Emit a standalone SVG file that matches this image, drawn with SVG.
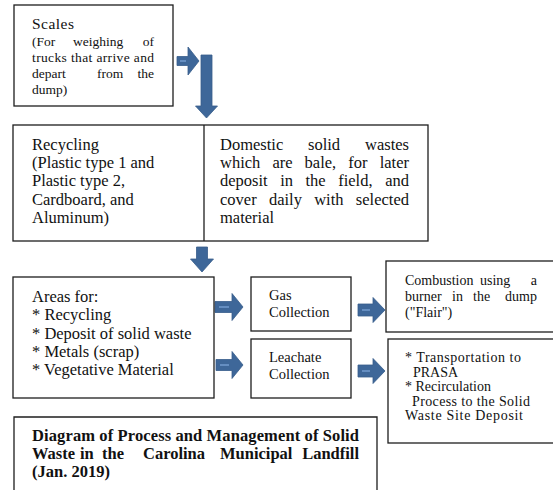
<svg xmlns="http://www.w3.org/2000/svg" width="553" height="490" viewBox="0 0 553 490">
<style>
.box{fill:#fff;stroke:#1e1e1e;stroke-width:1.3}
text{font-family:'Liberation Serif','DejaVu Serif','Times New Roman',serif;fill:#111}
.s135{font-size:13.5px}
.s14{font-size:14px}
.s145{font-size:14.5px}
.s165{font-size:16.5px}
.b{font-weight:bold}
.arr{fill:#3e6799;stroke:#375d8a;stroke-width:0.8}
.hl{stroke:#6a94c6;stroke-width:1.8;fill:none}
</style>
<rect width="553" height="490" fill="#fff"/>
<g id="connectors">
<path class="arr" d="M177,56.5 L188,56.5 L188,47 L199,61 L188,75 L188,65.5 L177,65.5 Z"/>
<path class="hl" d="M180,61 L186,61"/>
<path class="arr" d="M201,55 L212,55 L212,106 L217.5,106 L206.5,118 L195.5,106 L201,106 Z"/>
<path class="arr" d="M196.5,247 L207.5,247 L207.5,259 L213.5,259 L202,272 L190.5,259 L196.5,259 Z"/>
<path class="arr" d="M215,301.5 L232,301.5 L232,293.5 L243,307 L232,320.5 L232,312.5 L215,312.5 Z"/>
<path class="hl" d="M219,307 L229,307"/>
<path class="arr" d="M216,359.5 L232,359.5 L232,351.5 L243,365 L232,378.5 L232,370.5 L216,370.5 Z"/>
<path class="hl" d="M220,365 L229,365"/>
<path class="arr" d="M358,304 L373,304 L373,297.5 L385,310 L373,322.5 L373,316 L358,316 Z"/>
<path class="hl" d="M362,310 L370,310"/>
<path class="arr" d="M358,365 L373,365 L373,358.5 L385,371 L373,383.5 L373,377 L358,377 Z"/>
<path class="hl" d="M362,371 L370,371"/>
</g>
<g id="scales">
<rect class="box" x="14" y="5" width="159" height="101"/>
<text x="32" y="29" font-size="15.5" textLength="42">Scales</text>
<text class="s135" y="46"><tspan x="32">(For</tspan><tspan x="73">weighing</tspan><tspan x="154" text-anchor="end">of</tspan></text>
<text class="s135" x="32" y="62" textLength="122">trucks that arrive and</text>
<text class="s135" y="78"><tspan x="32">depart</tspan><tspan x="97">from</tspan><tspan x="154" text-anchor="end">the</tspan></text>
<text class="s135" x="32" y="94">dump)</text>
</g>
<g id="recycling-domestic">
<rect class="box" x="13" y="125" width="415" height="116"/>
<line x1="204" y1="125" x2="204" y2="241" stroke="#1e1e1e" stroke-width="1.3"/>
<text class="s165" x="32" y="150">Recycling</text>
<text class="s165" x="32" y="168">(Plastic type 1 and</text>
<text class="s165" x="32" y="186">Plastic type 2,</text>
<text class="s165" x="32" y="205">Cardboard, and</text>
<text class="s165" x="32" y="223">Aluminum)</text>
<text class="s165" y="150"><tspan x="220">Domestic</tspan><tspan x="308">solid</tspan><tspan x="409" text-anchor="end">wastes</tspan></text>
<text class="s165" y="168"><tspan x="220">which</tspan><tspan x="272.4">are</tspan><tspan x="304.6">bale,</tspan><tspan x="348.3">for</tspan><tspan x="409" text-anchor="end">later</tspan></text>
<text class="s165" y="186"><tspan x="220">deposit</tspan><tspan x="280.2">in</tspan><tspan x="305.5">the</tspan><tspan x="338.2">field,</tspan><tspan x="409" text-anchor="end">and</tspan></text>
<text class="s165" y="205"><tspan x="220">cover</tspan><tspan x="268.9">daily</tspan><tspan x="314.2">with</tspan><tspan x="409" text-anchor="end">selected</tspan></text>
<text class="s165" x="220" y="223">material</text>
</g>
<g id="areas">
<rect class="box" x="13" y="277" width="201" height="121"/>
<text class="s165" x="32" y="302">Areas for:</text>
<text class="s165" x="32" y="320">* Recycling</text>
<text class="s165" x="32" y="339">* Deposit of solid waste</text>
<text class="s165" x="32" y="357">* Metals (scrap)</text>
<text class="s165" x="32" y="375">* Vegetative Material</text>
</g>
<g id="gas">
<rect class="box" x="251" y="277" width="100" height="54"/>
<text class="s145" x="269" y="300">Gas</text>
<text class="s145" x="269" y="317">Collection</text>
</g>
<g id="leachate">
<rect class="box" x="251" y="339" width="100" height="59"/>
<text class="s145" x="269" y="362">Leachate</text>
<text class="s145" x="269" y="379">Collection</text>
</g>
<g id="combustion">
<rect class="box" x="386" y="261" width="180" height="71"/>
<text class="s14" y="285"><tspan x="405">Combustion</tspan><tspan x="480">using</tspan><tspan x="537" text-anchor="end">a</tspan></text>
<text class="s14" y="301"><tspan x="405">burner</tspan><tspan x="452">in</tspan><tspan x="473">the</tspan><tspan x="537" text-anchor="end">dump</tspan></text>
<text class="s14" x="405" y="317">("Flair")</text>
</g>
<g id="transport">
<rect class="box" x="388" y="339" width="180" height="104"/>
<text class="s14" x="405" y="362" textLength="116">* Transportation to</text>
<text class="s14" x="413" y="377">PRASA</text>
<text class="s14" x="405" y="391">* Recirculation</text>
<text class="s14" x="412" y="406" textLength="118">Process to the Solid</text>
<text class="s14" x="405" y="420" textLength="118">Waste Site Deposit</text>
</g>
<g id="title">
<path d="M14,495 L14,417 L377,417 L377,495" fill="#fff" stroke="#1e1e1e" stroke-width="1.3"/>
<text class="s165 b" x="32" y="441" textLength="327">Diagram of Process and Management of Solid</text>
<text class="s165 b" y="459"><tspan x="32">Waste</tspan><tspan x="80">in</tspan><tspan x="102">the</tspan><tspan x="143">Carolina</tspan><tspan x="220">Municipal</tspan><tspan x="359" text-anchor="end">Landfill</tspan></text>
<text class="s165 b" x="32" y="477">(Jan. 2019)</text>
</g>
</svg>
